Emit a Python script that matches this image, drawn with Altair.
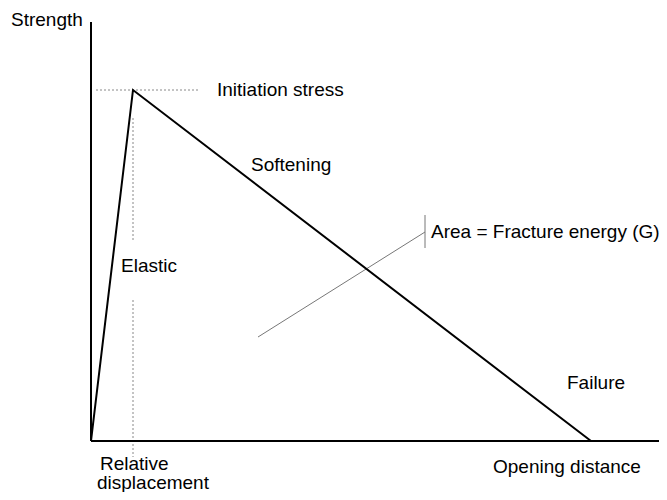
import altair as alt
import pandas as pd

# Traction-separation law (bilinear cohesive law), data units
curve_x = [0.0, 0.42, 5.0]
curve_y = [0.0, 3.51, 0.0]

# axes (x from origin to end, y from origin to top)
axis_x_end = 5.76
axis_y_end = 4.19

# dotted guide lines: (x, y, x2, y2)
guide_x = [0.05, 0.42, 0.42]
guide_y = [3.51, 3.23, 1.41]
guide_x2 = [1.09, 0.42, 0.42]
guide_y2 = [3.51, 2.01, -0.16]

# leader line for fracture-energy annotation
leader_x = [1.67, 3.34]
leader_y = [1.04, 2.09]
tick_x = 3.34
tick_y = [1.93, 2.26]

# labels
label_text = ["Strength", "Initiation stress", "Softening", "Elastic",
              "Area = Fracture energy (G)", "Failure", "Opening distance",
              "Relative", "displacement"]
label_x = [-0.80, 1.26, 1.60, 0.30, 3.40, 4.76, 4.02, 0.09, 0.06]
label_y = [4.21, 3.51, 2.76, 1.75, 2.09, 0.58, -0.26, -0.23, -0.42]

X = alt.Scale(domain=[-0.83, 5.68], nice=False, zero=False)
Y = alt.Scale(domain=[-0.51, 4.33], nice=False, zero=False)

curve = pd.DataFrame({"x": curve_x, "y": curve_y, "o": range(len(curve_x))})
axes = pd.DataFrame({"x": [0.0, 0.0], "y": [0.0, 0.0],
                     "x2": [axis_x_end, 0.0], "y2": [0.0, axis_y_end]})
guides = pd.DataFrame({"x": guide_x, "y": guide_y, "x2": guide_x2, "y2": guide_y2})
leader = pd.DataFrame({"x": [leader_x[0], tick_x], "y": [leader_y[0], tick_y[0]],
                       "x2": [leader_x[1], tick_x], "y2": [leader_y[1], tick_y[1]]})
labels = pd.DataFrame({"t": label_text, "x": label_x, "y": label_y})

axes_layer = alt.Chart(axes).mark_rule(color="black", strokeWidth=2, clip=False).encode(
    x=alt.X("x:Q", scale=X, axis=None), y=alt.Y("y:Q", scale=Y, axis=None),
    x2="x2:Q", y2="y2:Q")

guide_layer = alt.Chart(guides).mark_rule(color="#888888", strokeWidth=1,
                                          strokeDash=[2, 2]).encode(
    x=alt.X("x:Q", scale=X, axis=None), y=alt.Y("y:Q", scale=Y, axis=None),
    x2="x2:Q", y2="y2:Q")

leader_layer = alt.Chart(leader).mark_rule(color="#777777", strokeWidth=1).encode(
    x=alt.X("x:Q", scale=X, axis=None), y=alt.Y("y:Q", scale=Y, axis=None),
    x2="x2:Q", y2="y2:Q")

curve_layer = alt.Chart(curve).mark_line(color="black", strokeWidth=2,
                                         strokeJoin="miter").encode(
    x=alt.X("x:Q", scale=X, axis=None), y=alt.Y("y:Q", scale=Y, axis=None),
    order="o:Q")

text_layer = alt.Chart(labels).mark_text(align="left", baseline="middle",
                                         font="Liberation Sans", fontSize=19,
                                         color="black").encode(
    x=alt.X("x:Q", scale=X, axis=None), y=alt.Y("y:Q", scale=Y, axis=None),
    text="t:N")

chart = alt.layer(guide_layer, leader_layer, axes_layer, curve_layer, text_layer).properties(
    width=651, height=484, padding=0, autosize=alt.AutoSizeParams(type="none")
).configure_view(stroke=None)

chart.save("out.html", embed_options={"renderer": "svg", "actions": False})
